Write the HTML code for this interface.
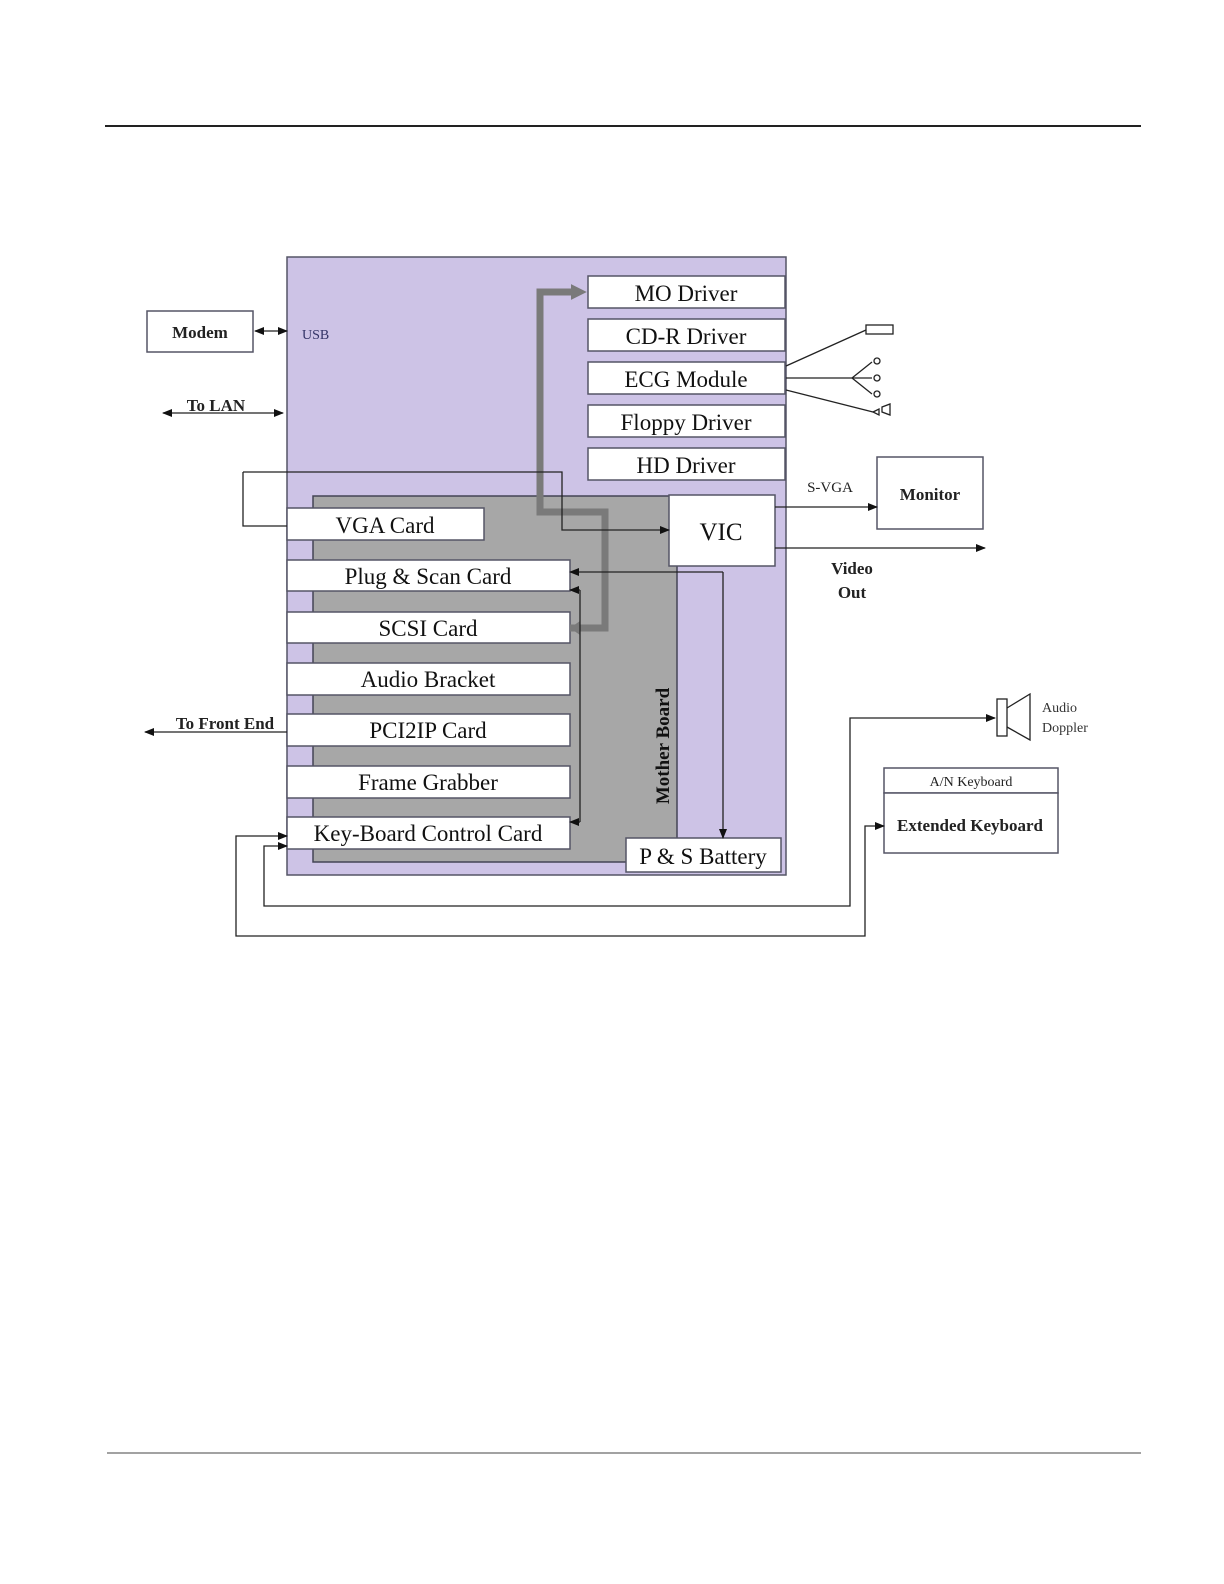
<!DOCTYPE html>
<html><head><meta charset="utf-8"><style>html,body{margin:0;padding:0;background:#fff;overflow:hidden;width:1224px;height:1584px}svg{display:block}</style></head>
<body>
<svg width="1224" height="1584" viewBox="0 0 1224 1584" xmlns="http://www.w3.org/2000/svg" font-family="Liberation Serif, serif">
<defs>
<marker id="a" viewBox="0 0 10 10" refX="9" refY="5" markerWidth="10" markerHeight="10" markerUnits="userSpaceOnUse" orient="auto-start-reverse"><path d="M0,1 L10,5 L0,9z" fill="#111"/></marker>
<marker id="g" viewBox="0 0 10 10" refX="2" refY="5" markerWidth="16" markerHeight="18" markerUnits="userSpaceOnUse" orient="auto"><path d="M0,0 L10,5 L0,10z" fill="#7a7a7a"/></marker>
</defs>
<line x1="105" y1="126" x2="1141" y2="126" stroke="#222" stroke-width="2"/>
<line x1="107" y1="1453" x2="1141" y2="1453" stroke="#444" stroke-width="1"/>

<rect x="287" y="257" width="499" height="618" fill="#cdc3e6" stroke="#556" stroke-width="1.5"/>
<rect x="313" y="496" width="364" height="366" fill="#a7a7a7" stroke="#445" stroke-width="1.5"/>
<text transform="translate(669,746) rotate(-90)" text-anchor="middle" font-size="19" font-weight="bold" fill="#111">Mother Board</text>

<g fill="#fff" stroke="#556" stroke-width="1.5">
<rect x="588" y="276" width="197" height="32"/>
<rect x="588" y="319" width="197" height="32"/>
<rect x="588" y="362" width="197" height="32"/>
<rect x="588" y="405" width="197" height="32"/>
<rect x="588" y="448" width="197" height="32"/>
<rect x="669" y="495" width="106" height="71"/>
<rect x="287" y="508" width="197" height="32"/>
<rect x="287" y="560" width="283" height="31"/>
<rect x="287" y="612" width="283" height="31"/>
<rect x="287" y="663" width="283" height="32"/>
<rect x="287" y="714" width="283" height="32"/>
<rect x="287" y="766" width="283" height="32"/>
<rect x="287" y="817" width="283" height="32"/>
<rect x="626" y="838" width="155" height="34"/>
<rect x="147" y="311" width="106" height="41"/>
<rect x="877" y="457" width="106" height="72"/>
<rect x="884" y="768" width="174" height="25"/>
<rect x="884" y="793" width="174" height="60"/>
</g>
<g font-size="23" fill="#111" text-anchor="middle">
<text x="686" y="301">MO Driver</text>
<text x="686" y="344">CD-R Driver</text>
<text x="686" y="387">ECG Module</text>
<text x="686" y="430">Floppy Driver</text>
<text x="686" y="473">HD Driver</text>
<text x="721" y="540" font-size="25">VIC</text>
<text x="385" y="533">VGA Card</text>
<text x="428" y="584">Plug &amp; Scan Card</text>
<text x="428" y="636">SCSI Card</text>
<text x="428" y="687">Audio Bracket</text>
<text x="428" y="738">PCI2IP Card</text>
<text x="428" y="790">Frame Grabber</text>
<text x="428" y="841">Key-Board Control Card</text>
<text x="703" y="864">P &amp; S Battery</text>
</g>
<g font-size="17" font-weight="bold" fill="#222" text-anchor="middle">
<text x="200" y="338">Modem</text>
<text x="930" y="500">Monitor</text>
<text x="216" y="411">To LAN</text>
<text x="225" y="729">To Front End</text>
<text x="852" y="574">Video</text>
<text x="852" y="598">Out</text>
<text x="970" y="831">Extended Keyboard</text>
</g>
<text x="971" y="786" font-size="14" text-anchor="middle" fill="#222">A/N Keyboard</text>
<text x="830" y="492" font-size="15" text-anchor="middle" fill="#222">S-VGA</text>
<text x="302" y="339" font-size="14" fill="#336">USB</text>
<text x="1042" y="712" font-size="14" fill="#333">Audio</text>
<text x="1042" y="732" font-size="14" fill="#333">Doppler</text>

<!-- thick gray bus -->
<polyline points="570,628 605,628 605,512 540,512 540,292 574,292" fill="none" stroke="#7a7a7a" stroke-width="7" marker-end="url(#g)"/>
<path d="M570,628 l10,-7 v14z" fill="#7a7a7a"/>

<g fill="none" stroke="#222" stroke-width="1.3">
<polyline points="243,472 243,526 287,526"/>
<polyline points="243,472 562,472 562,530 669,530" marker-end="url(#a)"/>
<polyline points="723,572 570,572" marker-end="url(#a)"/>
<polyline points="723,572 723,838" marker-end="url(#a)"/>
<line x1="580" y1="822" x2="580" y2="590"/>
<line x1="580" y1="590" x2="570" y2="590" marker-end="url(#a)"/>
<line x1="580" y1="822" x2="570" y2="822" marker-end="url(#a)"/>
<line x1="255" y1="331" x2="287" y2="331" marker-start="url(#a)" marker-end="url(#a)"/>
<line x1="163" y1="413" x2="283" y2="413" marker-start="url(#a)" marker-end="url(#a)"/>
<line x1="287" y1="732" x2="145" y2="732" marker-end="url(#a)"/>
<line x1="775" y1="507" x2="877" y2="507" marker-end="url(#a)"/>
<line x1="775" y1="548" x2="985" y2="548" marker-end="url(#a)"/>
<polyline points="287,846 264,846 264,906 850,906 850,718 995,718" marker-end="url(#a)"/>
<polyline points="287,836 236,836 236,936 865,936 865,826 884,826" marker-end="url(#a)"/>
<polyline points="284,836 287,836" marker-end="url(#a)"/>
<polyline points="284,846 287,846" marker-end="url(#a)"/>
<!-- ECG leads -->
<line x1="786" y1="366" x2="866" y2="330"/>
<rect x="866" y="325" width="27" height="9"/>
<line x1="786" y1="378" x2="852" y2="378"/>
<polyline points="872,362 852,378 872,394"/>
<line x1="852" y1="378" x2="872" y2="378"/>
<circle cx="877" cy="361" r="3"/><circle cx="877" cy="378" r="3"/><circle cx="877" cy="394" r="3"/>
<line x1="786" y1="390" x2="873" y2="412"/>
<path d="M873,412 l6,-3 v6z"/><path d="M882,407 l8,-3 v11 l-8,-3z"/>
<!-- speaker -->
<rect x="997" y="699" width="10" height="37"/>
<path d="M1007,708 L1030,694 L1030,740 L1007,727"/>
</g>
</svg>
</body></html>
